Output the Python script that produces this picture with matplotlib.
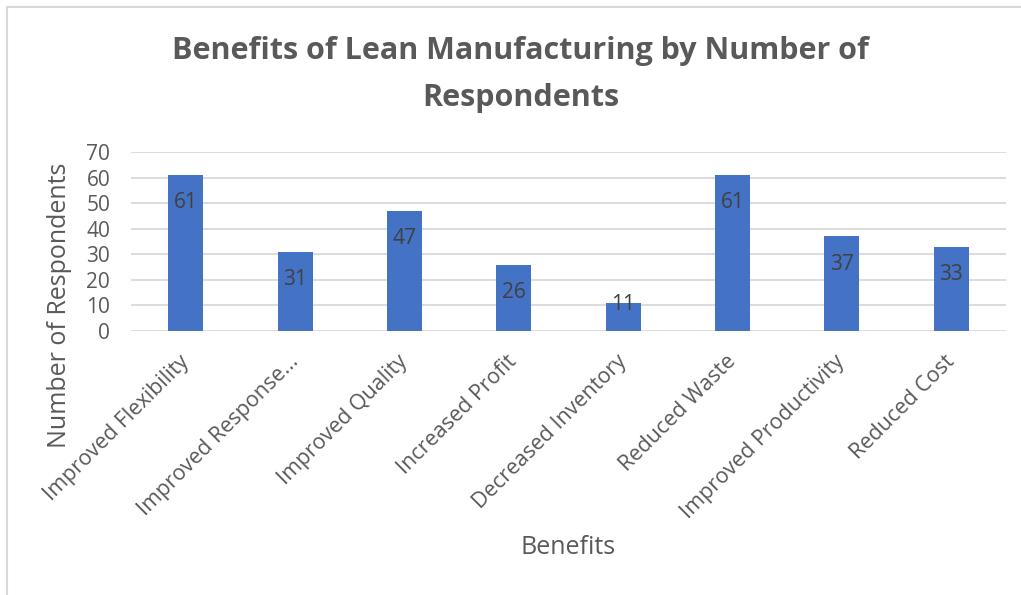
import matplotlib.pyplot as plt
from matplotlib.lines import Line2D

benefits = ["Improved Flexibility", "Improved Response...", "Improved Quality",
            "Increased Profit", "Decreased Inventory", "Reduced Waste",
            "Improved Productivity", "Reduced Cost"]
respondents = [61, 31, 47, 26, 11, 61, 37, 33]
y_ticks = [0, 10, 20, 30, 40, 50, 60, 70]

W, H = 1021, 595
BAR = "#4472C4"
GRID = "#D9D9D9"
TEXT = "#595959"

plt.rcParams['font.family'] = ['Open Sans', 'DejaVu Sans']


def main():
    fig = plt.figure(figsize=(W / 100, H / 100), dpi=100)
    ax = fig.add_axes([131 / W, 1 - 331 / H, 875 / W, 179 / H])

    x = range(len(benefits))
    ax.bar(x, respondents, width=0.32, color=BAR, zorder=2)

    # value labels just inside the top of each bar, kept off the baseline
    for xi, v in zip(x, respondents):
        ax.text(xi, max(v - 10.9, 10.2), str(v), ha='center', va='center',
                fontsize=15, color="#404040", zorder=3)

    ax.set_xlim(-0.5, len(benefits) - 0.5)
    ax.set_ylim(0, 70)
    ax.set_yticks(y_ticks)
    ax.set_xticks(list(x))
    ax.set_xticklabels(benefits, rotation=45, ha='right', va='center',
                       rotation_mode='anchor', fontsize=15.5, color=TEXT)
    ax.tick_params(axis='x', length=0, pad=20)
    ax.tick_params(axis='y', length=0, pad=15, labelsize=15, labelcolor=TEXT)
    ax.grid(axis='y', color=GRID, linewidth=1.3, zorder=0)
    for s in ax.spines.values():
        s.set_visible(False)

    fig.text(520 / W, 1 - 51 / H, "Benefits of Lean Manufacturing by Number of",
             ha='center', va='center', fontsize=22, fontweight='bold', color=TEXT)
    fig.text(521 / W, 1 - 98 / H, "Respondents",
             ha='center', va='center', fontsize=22, fontweight='bold', color=TEXT)
    fig.text(60 / W, 1 - 305 / H, "Number of Respondents", rotation=90,
             ha='center', va='center', fontsize=18, color=TEXT)
    fig.text(568 / W, 1 - 547 / H, "Benefits", ha='center', va='center',
             fontsize=18, color=TEXT)

    # chart frame
    fig.add_artist(Line2D([7 / W, 1], [1 - 7 / H, 1 - 7 / H], color=GRID, linewidth=1.5))
    fig.add_artist(Line2D([7 / W, 7 / W], [0, 1 - 7 / H], color=GRID, linewidth=1.5))

    fig.savefig("out.png", dpi=100)


if __name__ == '__main__':
    main()
